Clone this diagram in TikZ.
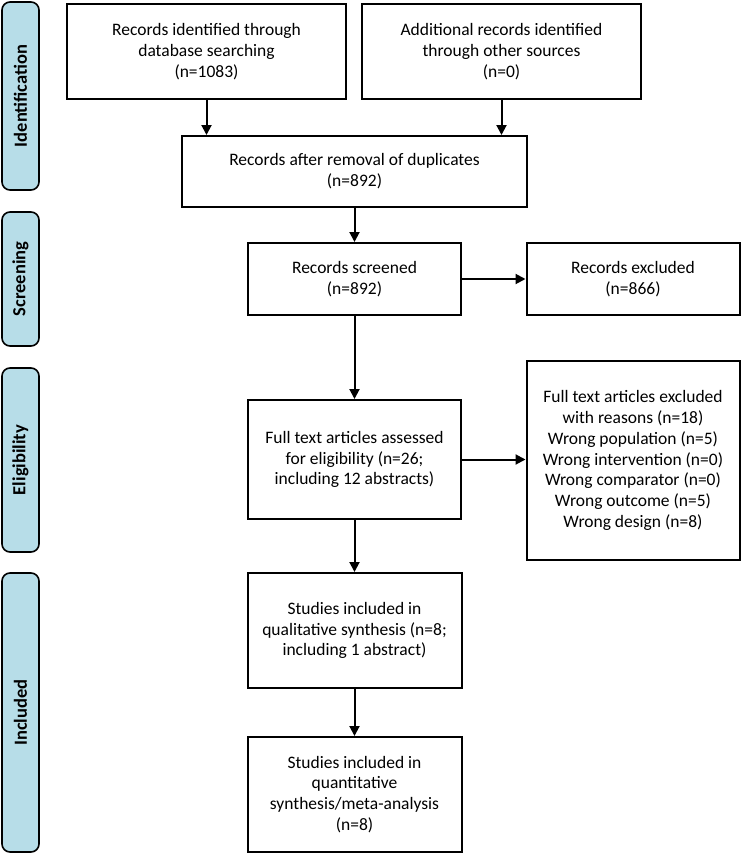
\documentclass[tikz,border=0pt]{standalone}
\usepackage{fontspec}
\setmainfont{Carlito}
\usetikzlibrary{arrows.meta}
\definecolor{tabblue}{RGB}{183,221,232}

\begin{document}
\begin{tikzpicture}[x=1pt, y=-1pt,
    box/.style={draw, line width=2pt, align=center, inner sep=0pt,
        font=\fontsize{17.5}{20.8}\selectfont},
    phase/.style={draw, line width=1.6pt, rounded corners=8pt, fill=tabblue,
        rotate=90, inner sep=0pt, minimum height=37pt,
        font=\fontsize{18.5}{22}\selectfont\bfseries},
    arr/.style={line width=2pt, -{Triangle[length=10pt, width=10pt]}}]

    \useasboundingbox (0,0) rectangle (742,854);

    \node[phase, minimum width=188pt] (id) at (20.5,96) {Identification};
    \node[phase, minimum width=134pt] (scr) at (20.5,279) {Screening};
    \node[phase, minimum width=184pt] (elig) at (20.5,460) {Eligibility};
    \node[phase, minimum width=279pt] (incl) at (20.5,712.5) {Included};

    \node[box, minimum width=279pt, minimum height=95pt] (db) at (206.5,51.5)
        {Records identified through\\database searching\\(n=1083)};
    \node[box, minimum width=279pt, minimum height=95pt] (other) at (501.5,51.5)
        {Additional records identified\\through other sources\\(n=0)};
    \node[box, minimum width=345pt, minimum height=71pt] (dupl) at (354.5,171.5)
        {Records after removal of duplicates\\(n=892)};

    \node[box, minimum width=213pt, minimum height=72pt] (screened) at (354.5,279)
        {Records screened\\(n=892)};
    \node[box, minimum width=213pt, minimum height=72pt] (excl) at (633,279)
        {Records excluded\\(n=866)};

    \node[box, minimum width=213pt, minimum height=119pt] (full) at (354.5,459.5)
        {Full text articles assessed\\for eligibility (n=26;\\including 12 abstracts)};
    \node[box, minimum width=213pt, minimum height=199pt] (reasons) at (633,460.5)
        {Full text articles excluded\\with reasons (n=18)\\Wrong population (n=5)\\
         Wrong intervention (n=0)\\Wrong comparator (n=0)\\Wrong outcome (n=5)\\
         Wrong design (n=8)};

    \node[box, minimum width=214pt, minimum height=115pt] (qual) at (354.5,630.5)
        {Studies included in\\qualitative synthesis (n=8;\\including 1 abstract)};
    \node[box, minimum width=214pt, minimum height=115pt] (quant) at (354.5,794.5)
        {Studies included in\\quantitative\\synthesis/meta-analysis\\(n=8)};

    \draw[arr] (db) -- (db |- dupl.north);
    \draw[arr] (other) -- (other |- dupl.north);
    \draw[arr] (dupl) -- (screened);
    \draw[arr] (screened) -- (excl);
    \draw[arr] (screened) -- (full);
    \draw[arr] (full) -- (full -| reasons.west);
    \draw[arr] (full) -- (qual);
    \draw[arr] (qual) -- (quant);
\end{tikzpicture}
\end{document}
